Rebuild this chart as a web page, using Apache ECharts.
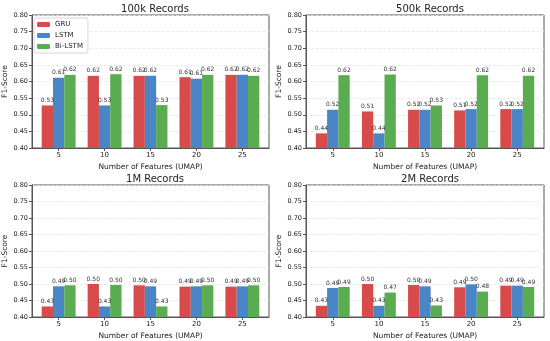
<!DOCTYPE html>
<html><head><meta charset="utf-8">
<script src="https://cdn.jsdelivr.net/npm/echarts@6/dist/echarts.min.js"></script>
<style>html,body{margin:0;padding:0;background:#fff}#c{width:550px;height:341px}</style>
</head><body><div id="c"></div>
<script>
const features = ['5','10','15','20','25'];
const models = ['GRU','LSTM','Bi-LSTM'];
const titles = ['100k Records','500k Records','1M Records','2M Records'];

const gru100k  = [0.528,0.617,0.617,0.613,0.620];
const lstm100k = [0.611,0.528,0.617,0.608,0.620];
const bi100k   = [0.620,0.622,0.529,0.620,0.617];

const gru500k  = [0.444,0.510,0.515,0.513,0.517];
const lstm500k = [0.515,0.444,0.515,0.517,0.517];
const bi500k   = [0.619,0.621,0.528,0.619,0.617];

const gru1m  = [0.432,0.500,0.496,0.492,0.492];
const lstm1m = [0.493,0.432,0.493,0.493,0.493];
const bi1m   = [0.496,0.497,0.432,0.496,0.496];

const gru2m  = [0.434,0.500,0.497,0.490,0.495];
const lstm2m = [0.488,0.434,0.493,0.499,0.495];
const bi2m   = [0.491,0.474,0.435,0.477,0.491];

const panels = [
  [gru100k, lstm100k, bi100k],
  [gru500k, lstm500k, bi500k],
  [gru1m, lstm1m, bi1m],
  [gru2m, lstm2m, bi2m]
];
const colors = ['#d84b4b','#4a86c6','#5aac50'];
const font = 'DejaVu Sans';
const pos = [[31,15],[306,15],[31,185],[306,185]];
const W = 238, H = 133;
const idx = features.map((f,i)=>i);

const grid=[], xAxis=[], yAxis=[], series=[], title=[];
panels.forEach((p,i)=>{
  grid.push({left:pos[i][0], top:pos[i][1], width:W, height:H, show:true, borderColor:'#555', borderWidth:1});
  title.push({text:titles[i], left:pos[i][0]+W/2, top:pos[i][1]-16, textAlign:'center',
    textStyle:{fontFamily:font, fontSize:10, fontWeight:'normal', color:'#222'}});
  xAxis.push({type:'value', gridIndex:i, min:-0.58, max:4.58,
    name:'Number of Features (UMAP)', nameLocation:'middle', nameGap:15,
    nameTextStyle:{fontFamily:font, fontSize:7.5, color:'#222'},
    splitLine:{show:false},
    axisLine:{show:true, onZero:false, lineStyle:{color:'#555'}},
    axisTick:{show:true, length:3, customValues:idx, lineStyle:{color:'#555'}},
    axisLabel:{fontFamily:font, fontSize:7, color:'#222', margin:4, customValues:idx,
      formatter:v=>features[Math.round(v)]}});
  yAxis.push({type:'value', gridIndex:i, min:0.40, max:0.80, interval:0.05,
    name:'F1-Score', nameLocation:'middle', nameGap:23, nameRotate:90,
    nameTextStyle:{fontFamily:font, fontSize:7.5, color:'#222'},
    axisLine:{show:true, onZero:false, lineStyle:{color:'#555'}},
    axisTick:{show:true, length:3, lineStyle:{color:'#555'}},
    axisLabel:{fontFamily:font, fontSize:6.5, color:'#222', margin:4, formatter:v=>v.toFixed(2)},
    splitLine:{show:true, lineStyle:{color:'#e6e6e6', type:'dashed', width:0.8}}});
  p.forEach((vals,k)=>{
    series.push({type:'bar', name:models[k], xAxisIndex:i, yAxisIndex:i,
      data:vals.map((v,j)=>[idx[j], v]),
      barWidth:11.3, barGap:'0%',
      itemStyle:{color:colors[k]},
      label:{show:true, position:'top', distance:2, fontFamily:font, fontSize:6, color:'#333',
        formatter:o=>o.value[1].toFixed(2)}});
  });
});

const chart = echarts.init(document.getElementById('c'), null, {renderer:'canvas'});
chart.setOption({
  animation:false,
  color:colors,
  title:title,
  legend:{data:models, orient:'vertical', left:34, top:18, itemWidth:13, itemHeight:5, itemGap:4,
    padding:[3,5,3,3], borderColor:'#ccc', borderWidth:0.8, borderRadius:2, backgroundColor:'#fff',
    textStyle:{fontFamily:font, fontSize:7, color:'#222'}},
  grid:grid, xAxis:xAxis, yAxis:yAxis, series:series
});
</script></body></html>
